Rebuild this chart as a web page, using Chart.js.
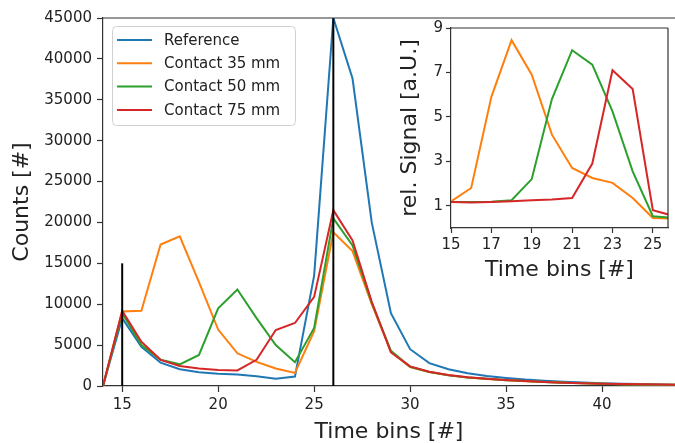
<!DOCTYPE html>
<html>
<head>
<meta charset="utf-8">
<script src="https://cdn.jsdelivr.net/npm/chart.js@4/dist/chart.umd.min.js"></script>
<style>
  html, body { margin: 0; padding: 0; background: #fff; }
  #wrap { position: relative; width: 675px; height: 443px; }
  #main { position: absolute; left: 0; top: 0; }
  #inset { position: absolute; left: 390px; top: 20px; }
</style>
</head>
<body>
<div id="wrap">
  <canvas id="main" width="675" height="443"></canvas>
  <canvas id="inset" width="285" height="270"></canvas>
</div>
<script>
// ---- data ----
const timeBins = [14, 15, 16, 17, 18, 19, 20, 21, 22, 23, 24, 25, 26, 27, 28, 29, 30,
                  31, 32, 33, 34, 35, 36, 37, 38, 39, 40, 41, 42, 43, 44];
const reference = [0, 8300, 4800, 2850, 2040, 1670, 1500, 1400, 1200, 900, 1150, 13500, 45000, 37600, 20000, 8900, 4500,
                   2800, 2040, 1550, 1220, 980, 780, 650, 530, 420, 340, 280, 230, 190, 160];
const contact35 = [0, 9100, 9200, 17300, 18300, 12700, 6900, 4000, 2950, 2150, 1600, 6700, 18800, 16500, 10000, 4200, 2300,
                   1700, 1300, 1030, 870, 700, 590, 480, 400, 330, 260, 220, 190, 160, 140];
const contact50 = [0, 8900, 5000, 3200, 2650, 3800, 9500, 11800, 8300, 5000, 2900, 7100, 20500, 17200, 10200, 4300, 2350,
                   1720, 1320, 1040, 880, 710, 600, 490, 405, 335, 270, 225, 195, 165, 145];
const contact75 = [0, 9200, 5400, 3200, 2450, 2150, 1950, 1900, 3200, 6850, 7700, 10900, 21500, 17800, 10300, 4100, 2400,
                   1750, 1350, 1060, 900, 730, 610, 500, 410, 340, 280, 230, 200, 170, 150];
const seriesLabels = ['Reference', 'Contact 35 mm', 'Contact 50 mm', 'Contact 75 mm'];

// vertical black markers: x position and top value
const markerX = [15, 26];
const markerTop = [15000, 45000];

const xTicks = [15, 20, 25, 30, 35, 40];
const yTicks = [0, 5000, 10000, 15000, 20000, 25000, 30000, 35000, 40000, 45000];

// inset: relative signal
const insetBins = [15, 16, 17, 18, 19, 20, 21, 22, 23, 24, 25, 26];
const rel35 = [1.2, 1.8, 5.9, 8.45, 6.9, 4.2, 2.7, 2.25, 2.03, 1.35, 0.45, 0.42];
const rel50 = [1.17, 1.17, 1.18, 1.25, 2.2, 5.8, 8.0, 7.35, 5.25, 2.55, 0.53, 0.45];
const rel75 = [1.17, 1.15, 1.17, 1.2, 1.25, 1.28, 1.35, 2.9, 7.1, 6.25, 0.8, 0.55];
const insetXTicks = [15, 17, 19, 21, 23, 25];
const insetYTicks = [1, 3, 5, 7, 9];

const COLORS = ['#1f77b4', '#ff7f0e', '#2ca02c', '#d62728'];
const FONT = 'DejaVu Sans';
const INK = '#222';
const SPINE = '#333';

Chart.defaults.font.family = FONT;
Chart.defaults.color = INK;

const toPts = (xs, ys) => xs.map((x, i) => ({ x, y: ys[i] }));

const line = (label, data, color, order) => ({
    label, data, borderColor: color, backgroundColor: color,
    borderWidth: 2, pointRadius: 0, tension: 0, fill: false, order
});

/* ---- plugins ---- */
const whiteArea = {
    id: 'whiteArea',
    beforeDraw(chart) {
        const { ctx, chartArea: a } = chart;
        ctx.save();
        ctx.fillStyle = '#fff';
        ctx.fillRect(a.left, a.top, a.right - a.left, a.bottom - a.top);
        ctx.restore();
    }
};

const spines = {
    id: 'spines',
    afterDraw(chart, args, opts) {
        const { ctx, chartArea: a } = chart;
        ctx.save();
        ctx.strokeStyle = SPINE;
        ctx.lineWidth = 1.2;
        ctx.beginPath();
        ctx.moveTo(a.left, a.top);
        ctx.lineTo(a.right, a.top);
        if (opts.right) {
            ctx.moveTo(a.right, a.top);
            ctx.lineTo(a.right, a.bottom);
        }
        ctx.stroke();
        ctx.restore();
    }
};

// legend box drawn inside the axes, upper left
const boxLegend = {
    id: 'boxLegend',
    afterDraw(chart) {
        const { ctx } = chart;
        const items = chart.data.datasets.filter(d => d.label);
        const x0 = 112, y0 = 26, w = 183, h = 99;
        ctx.save();
        ctx.fillStyle = 'rgba(255,255,255,0.85)';
        ctx.strokeStyle = '#d0d0d0';
        ctx.lineWidth = 1;
        ctx.beginPath();
        ctx.roundRect(x0 + 0.5, y0 + 0.5, w, h, 4);
        ctx.fill();
        ctx.stroke();
        ctx.font = '15px "' + FONT + '"';
        ctx.textBaseline = 'middle';
        items.forEach((d, i) => {
            const y = 40 + i * 23.3;
            ctx.strokeStyle = d.borderColor;
            ctx.lineWidth = 2;
            ctx.beginPath();
            ctx.moveTo(117, y);
            ctx.lineTo(152, y);
            ctx.stroke();
            ctx.fillStyle = INK;
            ctx.fillText(d.label, 164, y + 1);
        });
        ctx.restore();
    }
};

/* ---- main chart ---- */
const mainSets = [
    line(seriesLabels[0], toPts(timeBins, reference), COLORS[0], 4),
    line(seriesLabels[1], toPts(timeBins, contact35), COLORS[1], 3),
    line(seriesLabels[2], toPts(timeBins, contact50), COLORS[2], 2),
    line(seriesLabels[3], toPts(timeBins, contact75), COLORS[3], 1)
];
markerX.forEach((x, i) => {
    mainSets.push(line('', [{ x, y: 0 }, { x, y: markerTop[i] }], '#000', 0));
});

new Chart(document.getElementById('main'), {
    type: 'line',
    data: { datasets: mainSets },
    plugins: [spines, boxLegend],
    options: {
        responsive: false,
        animation: false,
        devicePixelRatio: 1,
        layout: { padding: { top: 18, right: 0, bottom: 0, left: 0 } },
        plugins: { legend: { display: false }, tooltip: { enabled: false }, spines: { right: false } },
        scales: {
            x: {
                type: 'linear', min: 14, max: 43.8,
                afterBuildTicks: s => { s.ticks = xTicks.map(v => ({ value: v })); },
                afterFit: s => { s.height = 57; s.paddingLeft = 0; s.paddingRight = 0; },
                ticks: { font: { size: 15 }, color: INK, padding: 4, callback: v => String(v) },
                grid: { drawOnChartArea: false, drawTicks: true, tickLength: 6, color: SPINE, tickWidth: 1.2 },
                border: { display: true, color: SPINE, width: 1.2 },
                title: { display: true, text: 'Time bins [#]', color: INK, font: { size: 22, lineHeight: 1 }, padding: { top: 0, bottom: 0 } }
            },
            y: {
                type: 'linear', min: 0, max: 45000,
                afterBuildTicks: s => { s.ticks = yTicks.map(v => ({ value: v })); },
                afterFit: s => { s.width = 103; s.paddingTop = 0; s.paddingBottom = 0; },
                ticks: { font: { size: 15 }, color: INK, padding: 5, callback: v => String(v) },
                grid: { drawOnChartArea: false, drawTicks: true, tickLength: 6, color: SPINE, tickWidth: 1.2 },
                border: { display: true, color: SPINE, width: 1.2 },
                title: { display: true, text: 'Counts [#]', color: INK, font: { size: 22, lineHeight: 1 }, padding: { top: 11, bottom: 0 } }
            }
        }
    }
});

/* ---- inset ---- */
new Chart(document.getElementById('inset'), {
    type: 'line',
    data: {
        datasets: [
            line(seriesLabels[1], toPts(insetBins, rel35), COLORS[1], 3),
            line(seriesLabels[2], toPts(insetBins, rel50), COLORS[2], 2),
            line(seriesLabels[3], toPts(insetBins, rel75), COLORS[3], 1)
        ]
    },
    plugins: [whiteArea, spines],
    options: {
        responsive: false,
        animation: false,
        devicePixelRatio: 1,
        layout: { padding: { top: 8, right: 7, bottom: 0, left: 0 } },
        plugins: { legend: { display: false }, tooltip: { enabled: false }, spines: { right: true } },
        scales: {
            x: {
                type: 'linear', min: 15, max: 25.75,
                afterBuildTicks: s => { s.ticks = insetXTicks.map(v => ({ value: v })); },
                afterFit: s => { s.height = 62; s.paddingLeft = 0; s.paddingRight = 0; },
                ticks: { font: { size: 15 }, color: INK, padding: 3, callback: v => String(v) },
                grid: { drawOnChartArea: false, drawTicks: true, tickLength: 5, color: SPINE, tickWidth: 1.2 },
                border: { display: true, color: SPINE, width: 1.2 },
                title: { display: true, text: 'Time bins [#]', color: INK, font: { size: 22, lineHeight: 1 }, padding: { top: 0, bottom: 9 } }
            },
            y: {
                type: 'linear', min: 0, max: 9,
                afterBuildTicks: s => { s.ticks = insetYTicks.map(v => ({ value: v })); },
                afterFit: s => { s.width = 61; s.paddingTop = 0; s.paddingBottom = 0; },
                ticks: { font: { size: 15 }, color: INK, padding: 3, callback: v => String(v) },
                grid: { drawOnChartArea: false, drawTicks: true, tickLength: 5, color: SPINE, tickWidth: 1.2 },
                border: { display: true, color: SPINE, width: 1.2 },
                title: { display: true, text: 'rel. Signal [a.U.]', color: INK, font: { size: 22, lineHeight: 1 }, padding: { top: 9, bottom: 0 } }
            }
        }
    }
});
</script>
</body>
</html>
